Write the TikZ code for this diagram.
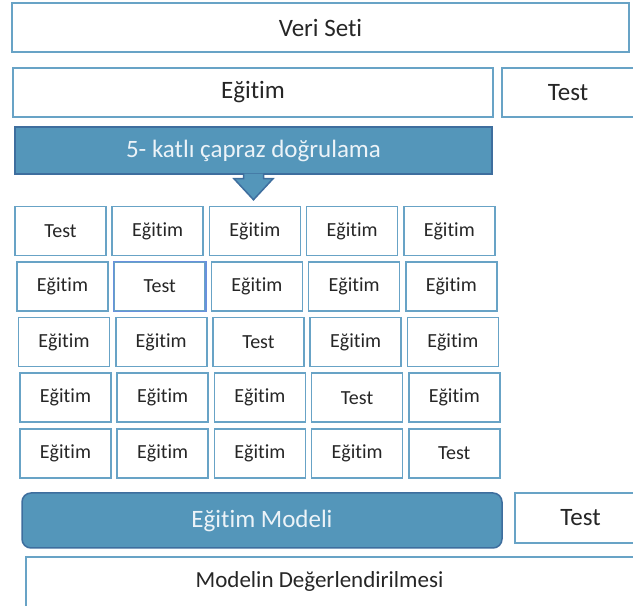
\documentclass[tikz,border=0pt]{standalone}
\usepackage{fontspec}
\setmainfont[Ligatures=NoCommon]{Carlito}
\usepackage{tikz}
\usetikzlibrary{positioning,calc}
\definecolor{boxline}{RGB}{104,163,198}
\definecolor{bluefill}{RGB}{84,150,186}
\definecolor{blueline}{RGB}{62,110,158}
\definecolor{testline}{RGB}{105,145,220}
\definecolor{txtgray}{RGB}{38,38,38}
\definecolor{lighttxt}{RGB}{236,243,248}

\begin{document}
\begin{tikzpicture}
	[ x=1pt, y=1pt,
	  box/.style={ draw=boxline, line width=1.6pt, fill=white, inner sep=0pt,
	  minimum height=49pt, text=txtgray, font=\fontsize{25}{30}\selectfont },
	  cell/.style={ box, minimum width=91pt, font=\fontsize{20}{24}\selectfont },
	  bluebox/.style={ draw=blueline, line width=1.5pt, fill=bluefill, inner sep=0pt,
	  text=lighttxt, font=\fontsize{25}{30}\selectfont },
	  txt/.style={ draw=none, fill=none, text=txtgray, font=\fontsize{23}{28}\selectfont }
	]
	\clip (0,0) rectangle (633,606);
	% veri seti, egitim / test
	\node[box, minimum width=617pt] (veri) at (320.5,578.5) {Veri Seti};
	\node[box, minimum width=480pt] (egitim) at (253,513.5) {Eğitim};
	\node[box, minimum width=132pt] (testtop) at (568,513.5) {Test};

	% capraz dogrulama
	\node[bluebox, minimum width=477pt, minimum height=47pt] (banner) at (253.5,455.5) {5- katlı çapraz doğrulama};
	\filldraw[bluebox] ([xshift=-10pt,yshift=1pt]banner.south) -- ++(0,-5) -- ++(-9.5,0)
		-- ++(19.5,-21) -- ++(19.5,21) -- ++(-9.5,0) -- ++(0,5);

	% folds
	\foreach \r/\off in {1/0,2/2,3/3.5,4/5,5/5}{
		\foreach \c in {1,...,5}{
			\node[cell] (c-\r-\c) at (60.5+\off+97.2*\c-97.2, 430.6-55.6*\r)
				{\ifnum\r=\c Test\else Eğitim\fi};
		}
	}
	\draw[testline, line width=1.2pt] (c-2-2.south west) rectangle (c-2-2.north east);

	% model
	\node[bluebox, rounded corners=9pt, minimum width=480pt, minimum height=55pt] (model) at (262,85.5) {Eğitim Modeli};
	\node[box, minimum width=131pt, minimum height=50pt] (testbot) at (580.5,88) {Test};
	\node[box, minimum width=624pt, minimum height=63pt] (modelin) at (338,17.5) {};
	\node[txt] (modelintxt) at (319.5,25) {Modelin Değerlendirilmesi};
\end{tikzpicture}
\end{document}
